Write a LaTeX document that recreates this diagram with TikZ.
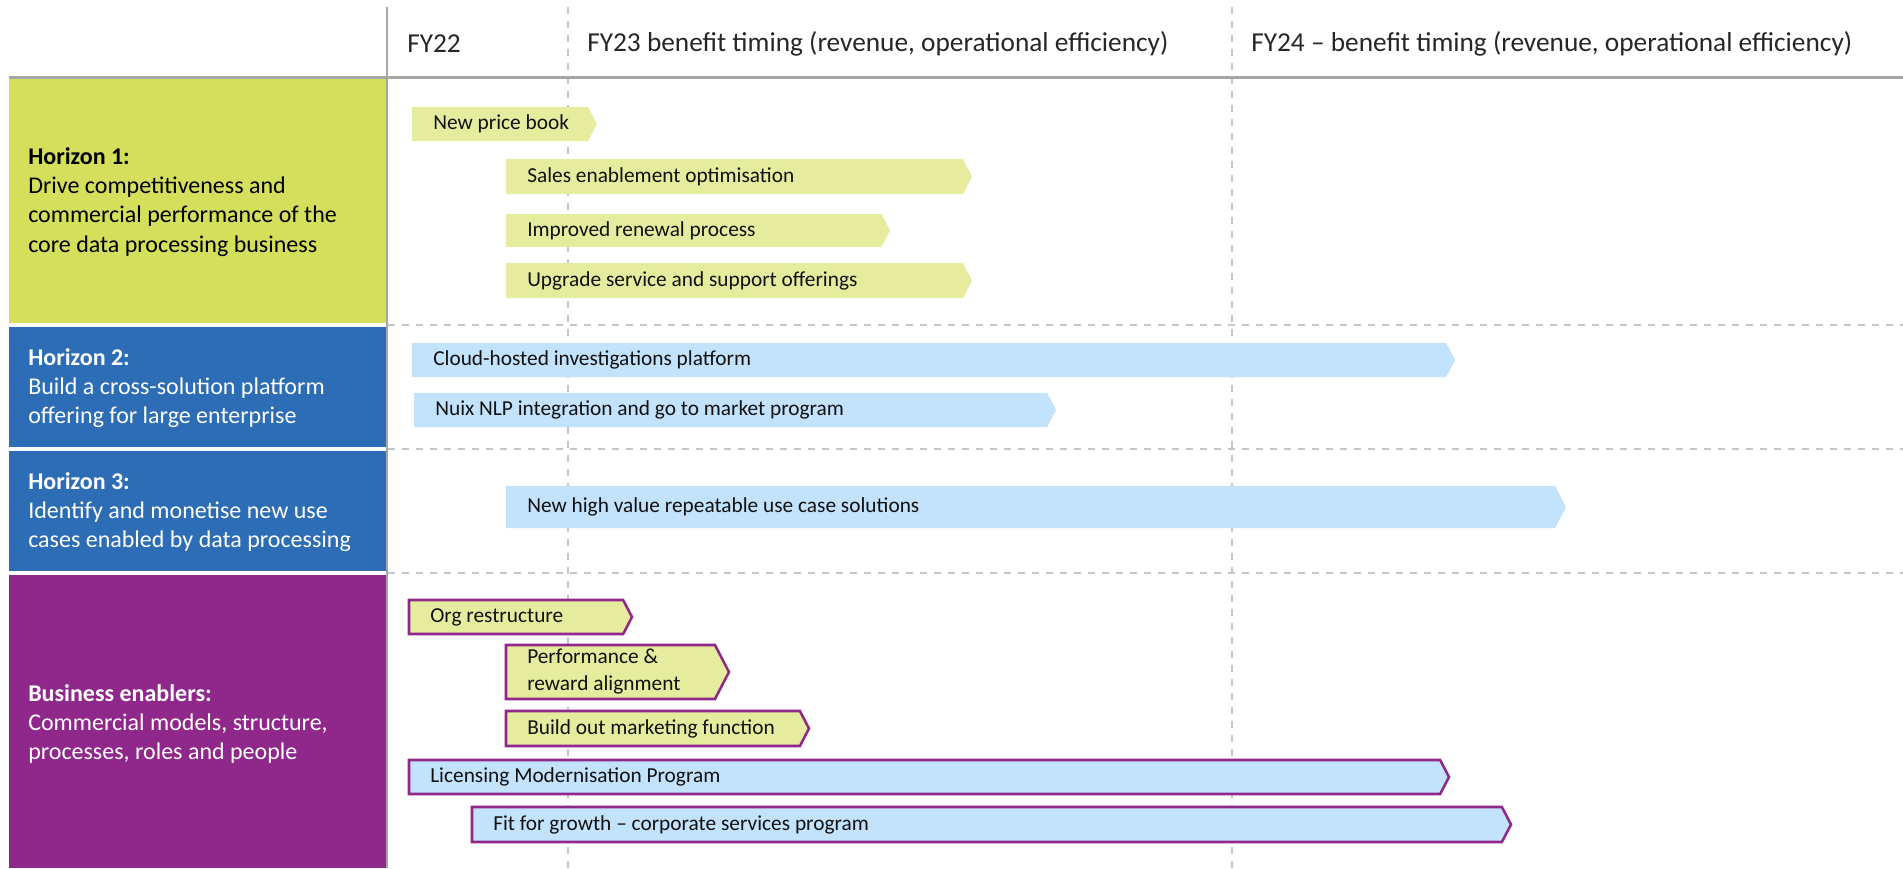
\documentclass[tikz,border=0pt]{standalone}
\usepackage{fontspec}
\setmainfont{Carlito}
\definecolor{lime}{HTML}{D5DF5B}
\definecolor{lgreen}{HTML}{E5EC9D}
\definecolor{hblue}{HTML}{2C6DB6}
\definecolor{lblue}{HTML}{C3E2FC}
\definecolor{purp}{HTML}{90278B}
\definecolor{gridgray}{HTML}{A6A6A6}
\definecolor{dashgray}{HTML}{C5C5CC}
\definecolor{hdrtext}{HTML}{262626}
\definecolor{bartextc}{HTML}{111111}
\newcommand\mybar[7]{%
  \path[#2] (#3,#5) -- ({#4-0.26*(#6-#5)},#5) -- (#4,{(#5+#6)/2}) -- ({#4-0.26*(#6-#5)},#6) -- (#3,#6) -- cycle;
  \node[bartext] (#1) at ({#3+21},{(#5+#6)/2}) {#7};
}
\begin{document}
\begin{tikzpicture}[x=0.75pt,y=-0.75pt,
  hdr/.style={anchor=west, inner sep=0pt, font=\fontsize{20.5pt}{25pt}\selectfont, text=hdrtext},
  lefttext/.style={anchor=west, inner sep=0pt, align=left, font=\fontsize{18pt}{21.9pt}\selectfont},
  bartext/.style={anchor=west, inner sep=0pt, align=left, font=\fontsize{16pt}{20.25pt}\selectfont, text=bartextc},
  gbar/.style={fill=lgreen},
  bbar/.style={fill=lblue},
  gpbar/.style={fill=lgreen, draw=purp, line width=1.9pt},
  bpbar/.style={fill=lblue, draw=purp, line width=1.9pt},
  sepline/.style={draw=dashgray, line width=1.5pt, dash pattern=on 5.25pt off 5.25pt},
  gridline/.style={draw=gridgray, line width=1.5pt}]
\useasboundingbox (0,0) rectangle (1903,868);
% left column boxes
\fill[lime] (9,79) rectangle (386,323);
\fill[hblue] (9,327) rectangle (386,447);
\fill[hblue] (9,451) rectangle (386,571);
\fill[purp] (9,575) rectangle (386,868);
% grid lines
\draw[sepline] (568,7) -- (568,868);
\draw[sepline] (1232,7) -- (1232,868);
\draw[gridline] (387,7) -- (387,868);
\draw[draw=gridgray, line width=2.25pt] (9,77) -- (1903,77);
\draw[sepline] (388,325) -- (1903,325);
\draw[sepline] (388,449) -- (1903,449);
\draw[sepline] (388,573) -- (1903,573);
% header
\node[hdr] (fy22) at (407,44) {FY22};
\node[hdr] (fy23) at (587,44) {FY23 benefit timing (revenue, operational efficiency)};
\node[hdr] (fy24) at (1251,44) {FY24 – benefit timing (revenue, operational efficiency)};
% left texts
\node[lefttext, text=black] (h1) at (28,202) {\textbf{Horizon 1:}\\Drive competitiveness and\\commercial performance of the\\core data processing business};
\node[lefttext, text=white] (h2) at (28,388) {\textbf{Horizon 2:}\\Build a cross-solution platform\\offering for large enterprise};
\node[lefttext, text=white] (h3) at (28,512) {\textbf{Horizon 3:}\\Identify and monetise new use\\cases enabled by data processing};
\node[lefttext, text=white] (be) at (28,724) {\textbf{Business enablers:}\\Commercial models, structure,\\processes, roles and people};
% bars
\mybar{b1}{gbar}{412}{597}{107}{141}{New price book}
\mybar{b2}{gbar}{506}{972}{159}{194}{Sales enablement optimisation}
\mybar{b3}{gbar}{506}{890}{214}{247}{Improved renewal process}
\mybar{b4}{gbar}{506}{972}{263}{298}{Upgrade service and support offerings}
\mybar{b5}{bbar}{412}{1455}{343}{377}{Cloud-hosted investigations platform}
\mybar{b6}{bbar}{414}{1056}{393}{427}{Nuix NLP integration and go to market program}
\mybar{b7}{bbar}{506}{1566}{486}{528}{New high value repeatable use case solutions}
\mybar{b8}{gpbar}{409}{632}{600}{634}{Org restructure}
\mybar{b9}{gpbar}{506}{729}{645}{699}{Performance \&\\reward alignment}
\mybar{b10}{gpbar}{506}{809}{711}{746}{Build out marketing function}
\mybar{b11}{bpbar}{409}{1449}{760}{794}{Licensing Modernisation Program}
\mybar{b12}{bpbar}{472}{1511}{807}{842}{Fit for growth – corporate services program}
\end{tikzpicture}
\end{document}
